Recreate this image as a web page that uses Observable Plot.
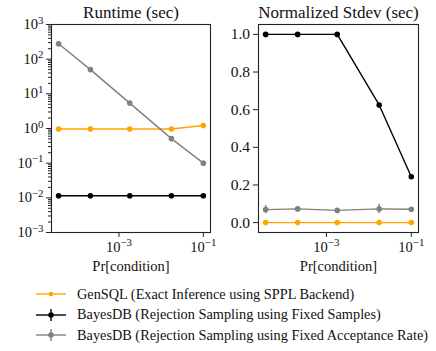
<!DOCTYPE html>
<html><head><meta charset="utf-8">
<script src="https://cdn.jsdelivr.net/npm/d3@7"></script>
<script src="https://cdn.jsdelivr.net/npm/@observablehq/plot@0.6"></script>
<style>
body{margin:0;background:#fff;}
#wrap{position:relative;width:436px;height:351px;font-family:"Liberation Serif",serif;color:#111;background:#fff;}
#wrap svg text{font-family:"Liberation Serif",serif !important;}
#p1{position:absolute;left:0;top:0}
#p2{position:absolute;left:210px;top:0}
.row{position:absolute;left:36px;height:20px;display:flex;align-items:center;font-size:14.3px;white-space:nowrap;font-family:"Liberation Serif",serif}
.row svg{margin-right:11px}
</style>
</head><body>
<div id="wrap"><div id="p1"></div><div id="p2"></div><div id="legend"></div></div>
<script>
// ---- data ----
const prCondition = [3.7e-5, 2.1e-4, 1.8e-3, 1.75e-2, 1e-1];
const runtimeGenSQL = [0.97, 0.97, 0.97, 0.97, 1.22];
const runtimeFixedSamples = [0.0115, 0.0115, 0.0115, 0.0115, 0.0115];
const runtimeFixedRate = [277, 50, 5.4, 0.51, 0.1];
const stdevGenSQL = [0, 0, 0, 0, 0];
const stdevFixedSamples = [1.0, 1.0, 1.0, 0.625, 0.244];
const stdevFixedRate = [0.069, 0.073, 0.065, 0.073, 0.071];
const stdevFixedRateErr = [0.022, 0.01, 0.009, 0.024, 0.009];
const seriesNames = [
  "GenSQL (Exact Inference using SPPL Backend)",
  "BayesDB (Rejection Sampling using Fixed Samples)",
  "BayesDB (Rejection Sampling using Fixed Acceptance Rate)"
];
const seriesColors = ["orange", "black", "grey"];
const xTicks = [1e-3, 1e-1];
const yLogTicks = [1e-3, 1e-2, 1e-1, 1e0, 1e1, 1e2, 1e3];
const yLinTicks = [0, 0.2, 0.4, 0.6, 0.8, 1.0];

const yMinor = [];
for (let e = -3; e < 3; e++) for (let m = 2; m <= 9; m++) yMinor.push(m * 10 ** e);

function rows(ys, si, err) {
  return prCondition.map((x, i) => ({x, y: ys[i], s: seriesNames[si], e: err ? err[i] : 0}));
}
const runtimeData = [rows(runtimeGenSQL,0), rows(runtimeFixedSamples,1), rows(runtimeFixedRate,2)];
const stdevData = [rows(stdevGenSQL,0), rows(stdevFixedSamples,1), rows(stdevFixedRate,2,stdevFixedRateErr)];

const FF = '"Liberation Serif", serif';
const powFmt = d => "10^" + Math.round(Math.log10(d));
const font = {fontFamily: FF, fontSize: "14px", color: "#111", background: "transparent", overflow: "visible"};
const xDomain = [10 ** -4.60, 10 ** -0.83];

function seriesMarks(data) {
  const m = [];
  data.forEach((d, i) => {
    m.push(Plot.line(d, {x: "x", y: "y", stroke: seriesColors[i], strokeWidth: 1.4}));
    if (d[0].e) m.push(Plot.ruleX(d, {x: "x", y1: r => r.y - r.e, y2: r => r.y + r.e, stroke: seriesColors[i], strokeWidth: 1.4}));
    m.push(Plot.dot(d, {x: "x", y: "y", fill: seriesColors[i], r: 2.8}));
  });
  return m;
}

function supify(svg) {
  d3.select(svg).selectAll("text").each(function() {
    const t = this.textContent;
    const m = /^10\^(-?\d+)$/.exec(t);
    if (m) {
      const el = d3.select(this);
      el.text("10");
      el.append("tspan").attr("dy", "-0.5em").attr("font-size", "0.75em").text(m[1].replace("-", "\u2212"));
    }
  });
}

function titleMarks(title) {
  return [
    Plot.text([title], {frameAnchor: "top", lineAnchor: "middle", dy: -12, fontSize: 17}),
    Plot.text(["Pr[condition]"], {frameAnchor: "bottom", lineAnchor: "middle", dy: 34, fontSize: 14.5})
  ];
}

const p1 = Plot.plot({
  width: 220, height: 270, marginLeft: 51, marginRight: 10, marginTop: 24, marginBottom: 38,
  style: font,
  x: {type: "log", domain: xDomain},
  y: {type: "log", domain: [1e-3, 1e3]},
  marks: [
    ...seriesMarks(runtimeData),
    Plot.frame({stroke: "#222", strokeWidth: 1.1}),
    Plot.axisY({ticks: yMinor, tickSize: 3, tickFormat: () => "", label: null, stroke: "#222"}),
    Plot.axisY({ticks: yLogTicks, tickSize: 5, tickPadding: 3, tickFormat: powFmt, label: null, fontSize: 14.5, stroke: "#222"}),
    Plot.axisX({ticks: xTicks, tickSize: 5, tickPadding: 4, tickFormat: powFmt, label: null, fontSize: 14.5, stroke: "#222"}),
    ...titleMarks("Runtime (sec)")
  ]
});
supify(p1);
document.getElementById("p1").append(p1);

const p2 = Plot.plot({
  width: 226, height: 270, marginLeft: 48, marginRight: 18, marginTop: 24, marginBottom: 38,
  style: font,
  x: {type: "log", domain: xDomain},
  y: {domain: [-0.0525, 1.0525]},
  marks: [
    ...seriesMarks(stdevData),
    Plot.frame({stroke: "#222", strokeWidth: 1.1}),
    Plot.axisY({ticks: yLinTicks, tickSize: 5, tickPadding: 3.5, tickFormat: d3.format(".1f"), label: null, fontSize: 15.5, stroke: "#222"}),
    Plot.axisX({ticks: xTicks, tickSize: 5, tickPadding: 4, tickFormat: powFmt, label: null, fontSize: 14.5, stroke: "#222"}),
    ...titleMarks("Normalized Stdev (sec)")
  ]
});
supify(p2);
document.getElementById("p2").append(p2);

// legend
const legend = document.getElementById("legend");
const legendY = [294, 314.5, 335];
seriesNames.forEach((name, i) => {
  const row = document.createElement("div");
  row.className = "row";
  row.style.top = (legendY[i] - 10) + "px";
  const c = seriesColors[i];
  const bar = i === 0 ? "" : `<line x1="15" x2="15" y1="4" y2="16" stroke="${c}" stroke-width="1.4"/>`;
  row.innerHTML = `<svg width="30" height="20"><line x1="0" x2="30" y1="10" y2="10" stroke="${c}" stroke-width="1.4"/>${bar}<circle cx="15" cy="10" r="${i===0?2.3:2.8}" fill="${c}"/></svg><span>${name}</span>`;
  legend.append(row);
});
</script>
</body></html>
